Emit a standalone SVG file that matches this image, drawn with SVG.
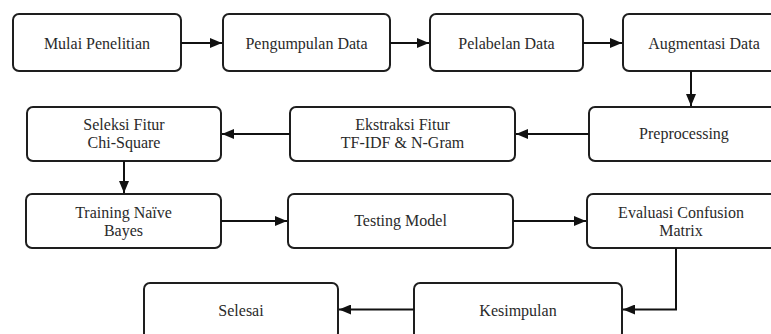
<svg xmlns="http://www.w3.org/2000/svg" width="771" height="334" viewBox="0 0 771 334">
  <style>
    .box { fill: #ffffff; stroke: #1e1e1e; stroke-width: 2; }
    .lbl { font-family: "Liberation Serif", "Times New Roman", serif; font-size: 16px; fill: #2a2a2a; text-anchor: middle; }
    .edge { fill: none; stroke: #111111; stroke-width: 2; marker-end: url(#arrow); }
  </style>
  <defs>
    <marker id="arrow" viewBox="0 0 12 10" refX="12" refY="5" markerWidth="12" markerHeight="10" markerUnits="userSpaceOnUse" orient="auto">
      <path d="M0,0 L12,5 L0,10 Z" fill="#111111"/>
    </marker>
  </defs>
  <rect width="771" height="334" fill="#ffffff"/>

  <!-- Row 1 -->
  <g id="mulai">
    <rect class="box" x="13" y="14" width="168" height="57" rx="6"/>
    <text class="lbl" x="97" y="48.5">Mulai Penelitian</text>
  </g>
  <g id="pengumpulan">
    <rect class="box" x="223" y="14" width="167" height="57" rx="6"/>
    <text class="lbl" x="306.5" y="48.5">Pengumpulan Data</text>
  </g>
  <g id="pelabelan">
    <rect class="box" x="430" y="14" width="153" height="57" rx="6"/>
    <text class="lbl" x="506.5" y="48.5">Pelabelan Data</text>
  </g>
  <g id="augmentasi">
    <rect class="box" x="623" y="14" width="162" height="57" rx="6"/>
    <text class="lbl" x="704" y="48.5">Augmentasi Data</text>
  </g>

  <!-- Row 2 -->
  <g id="seleksi">
    <rect class="box" x="27" y="107" width="194" height="54" rx="6"/>
    <text class="lbl" x="124" y="130">Seleksi Fitur</text>
    <text class="lbl" x="124" y="148">Chi-Square</text>
  </g>
  <g id="ekstraksi">
    <rect class="box" x="290" y="107" width="225" height="54" rx="6"/>
    <text class="lbl" x="402.5" y="130">Ekstraksi Fitur</text>
    <text class="lbl" x="402.5" y="148">TF-IDF &amp; N-Gram</text>
  </g>
  <g id="preprocessing">
    <rect class="box" x="589" y="107" width="190" height="54" rx="6"/>
    <text class="lbl" x="684" y="139">Preprocessing</text>
  </g>

  <!-- Row 3 -->
  <g id="training">
    <rect class="box" x="26" y="194" width="195" height="54" rx="6"/>
    <text class="lbl" x="123.5" y="218">Training Naïve</text>
    <text class="lbl" x="123.5" y="235.5">Bayes</text>
  </g>
  <g id="testing">
    <rect class="box" x="288" y="194" width="225" height="54" rx="6"/>
    <text class="lbl" x="400.5" y="226">Testing Model</text>
  </g>
  <g id="evaluasi">
    <rect class="box" x="587" y="194" width="190" height="54" rx="6"/>
    <text class="lbl" x="681" y="218">Evaluasi Confusion</text>
    <text class="lbl" x="681" y="235.5">Matrix</text>
  </g>

  <!-- Row 4 -->
  <g id="selesai">
    <rect class="box" x="144" y="283" width="194" height="56" rx="6"/>
    <text class="lbl" x="241" y="316">Selesai</text>
  </g>
  <g id="kesimpulan">
    <rect class="box" x="414" y="283" width="208" height="56" rx="6"/>
    <text class="lbl" x="518" y="315.5">Kesimpulan</text>
  </g>

  <!-- Connectors -->
  <g id="connectors">
    <path class="edge" d="M181,43 H222"/>
    <path class="edge" d="M390,43 H429"/>
    <path class="edge" d="M583,43 H622"/>
    <path class="edge" d="M691,71 V106"/>
    <path class="edge" d="M589,134 H516"/>
    <path class="edge" d="M290,134 H222"/>
    <path class="edge" d="M124,161 V193"/>
    <path class="edge" d="M221,221 H287"/>
    <path class="edge" d="M513,221 H586"/>
    <path class="edge" d="M676,248 V309.5 H623"/>
    <path class="edge" d="M414,309.5 H339"/>
  </g>
</svg>
